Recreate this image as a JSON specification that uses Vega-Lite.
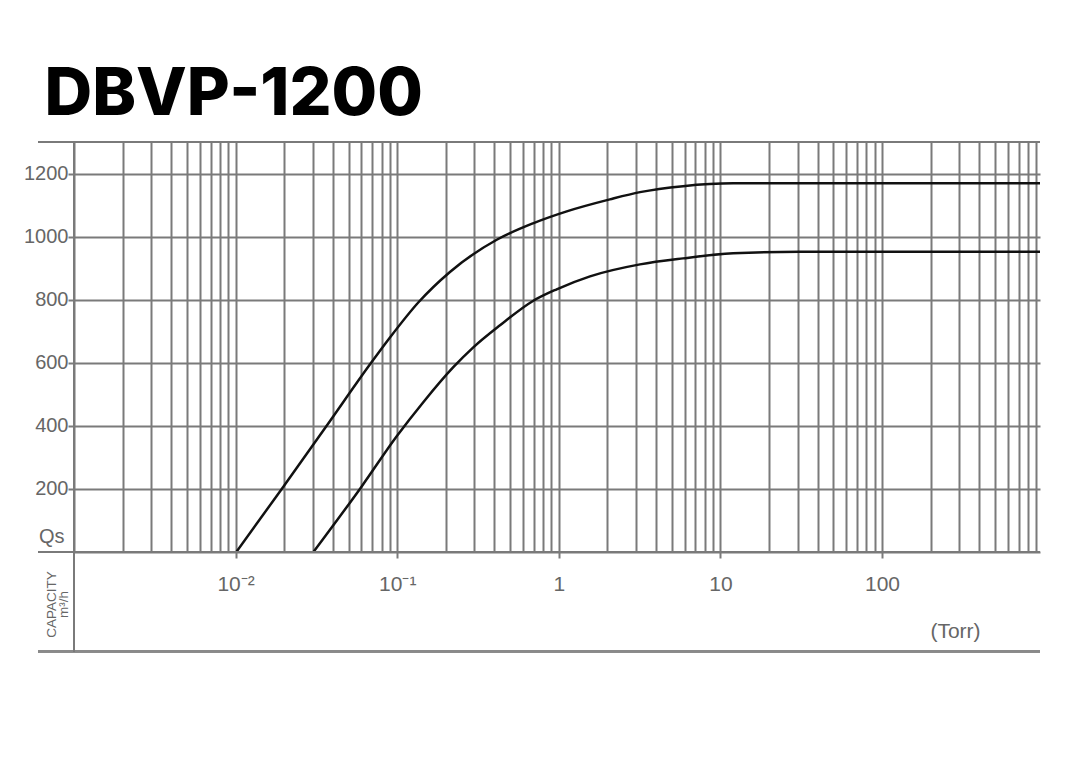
{
  "$schema": "https://vega.github.io/schema/vega-lite/v6.json",
  "width": 966,
  "height": 410,
  "autosize": {"type": "none"},
  "padding": {"left": 74, "top": 142, "right": 40, "bottom": 212},
  "background": "white",
  "title": {"text": "DBVP-1200", "anchor": "start", "dx": 21, "offset": -40, "font": "Inter", "fontSize": 66, "fontWeight": 800, "color": "#000000", "baseline": "alphabetic"},
  "config": {"view": {"stroke": null}},
  "data": {"values": [
    {"p": 0.0101, "q": 0, "s": "upper"},
    {"p": 0.0193, "q": 200, "s": "upper"},
    {"p": 0.0366, "q": 400, "s": "upper"},
    {"p": 0.0679, "q": 595, "s": "upper"},
    {"p": 0.0902, "q": 680, "s": "upper"},
    {"p": 0.135, "q": 791, "s": "upper"},
    {"p": 0.212, "q": 888, "s": "upper"},
    {"p": 0.413, "q": 990, "s": "upper"},
    {"p": 0.692, "q": 1042, "s": "upper"},
    {"p": 1.12, "q": 1080, "s": "upper"},
    {"p": 2.07, "q": 1118, "s": "upper"},
    {"p": 3.18, "q": 1141, "s": "upper"},
    {"p": 5.87, "q": 1160, "s": "upper"},
    {"p": 12, "q": 1169, "s": "upper"},
    {"p": 950, "q": 1169, "s": "upper"},
    {"p": 0.0303, "q": 0, "s": "lower"},
    {"p": 0.0603, "q": 208, "s": "lower"},
    {"p": 0.0993, "q": 367, "s": "lower"},
    {"p": 0.145, "q": 475, "s": "lower"},
    {"p": 0.2224, "q": 586, "s": "lower"},
    {"p": 0.2957, "q": 649, "s": "lower"},
    {"p": 0.4327, "q": 719, "s": "lower"},
    {"p": 0.692, "q": 796, "s": "lower"},
    {"p": 0.97, "q": 833, "s": "lower"},
    {"p": 1.56, "q": 874, "s": "lower"},
    {"p": 3.18, "q": 912, "s": "lower"},
    {"p": 5.87, "q": 931, "s": "lower"},
    {"p": 12, "q": 947, "s": "lower"},
    {"p": 31, "q": 952, "s": "lower"},
    {"p": 950, "q": 952, "s": "lower"}
  ]},
  "layer": [
    {
      "mark": {"type": "line", "interpolate": "monotone", "color": "#111111", "strokeWidth": 2.5, "clip": true},
      "encoding": {
        "x": {
          "field": "p", "type": "quantitative",
          "scale": {"type": "log", "domain": [0.001, 950], "nice": false},
          "axis": {
            "values": [0.001,0.002,0.003,0.004,0.005,0.006,0.007,0.008,0.009,0.01,0.02,0.03,0.04,0.05,0.06,0.07,0.08,0.09,0.1,0.2,0.3,0.4,0.5,0.6,0.7,0.8,0.9,1,2,3,4,5,6,7,8,9,10,20,30,40,50,60,70,80,90,100,200,300,400,500,600,700,800,900],
            "grid": true, "gridColor": "#7a7a7a", "gridWidth": 2, "gridOpacity": 1,
            "domain": false,
            "ticks": true, "tickColor": "#7a7a7a", "tickWidth": 2,
            "tickSize": {"condition": {"test": "datum.value == 0.01 || datum.value == 0.1 || datum.value == 1 || datum.value == 10 || datum.value == 100", "value": 6}, "value": 0},
            "labelExpr": "datum.value == 0.01 ? '10⁻²' : datum.value == 0.1 ? '10⁻¹' : datum.value == 1 ? '1' : datum.value == 10 ? '10' : datum.value == 100 ? '100' : ''",
            "labelOverlap": false, "labelBound": false, "labelFlush": false,
            "labelFont": "Liberation Sans", "labelFontSize": 21, "labelColor": "#666666", "labelPadding": 15,
            "title": "(Torr)", "titleX": 881, "titleY": 79, "titleAlign": "center", "titleBaseline": "middle",
            "titleFont": "Liberation Sans", "titleFontSize": 21, "titleFontWeight": "normal", "titleColor": "#666666"
          }
        },
        "y": {
          "field": "q", "type": "quantitative",
          "scale": {"domain": [0, 1300], "nice": false},
          "axis": {
            "values": [0, 200, 400, 600, 800, 1000, 1200],
            "format": "d",
            "grid": true, "gridColor": "#7a7a7a", "gridWidth": 2, "gridOpacity": 1,
            "domain": false,
            "tickColor": "#7a7a7a", "tickWidth": 2,
            "tickSize": {"condition": {"test": "datum.value == 0", "value": 0}, "value": 6},
            "labelExpr": "datum.value == 0 ? 'Qs' : datum.label",
            "labelOffset": {"condition": {"test": "datum.value == 0", "value": -16}, "value": 0},
            "labelPadding": {"condition": {"test": "datum.value == 0", "value": 10}, "value": 0},
            "labelFont": "Liberation Sans", "labelFontSize": 20, "labelColor": "#666666",
            "title": ["CAPACITY", "m³/h"], "titleX": -19, "titleY": 462, "titleAngle": -90,
            "titleAlign": "center", "titleBaseline": "alphabetic", "titleLineHeight": 12,
            "titleFont": "Liberation Sans", "titleFontSize": 13.5, "titleFontWeight": "normal", "titleColor": "#666666"
          }
        },
        "detail": {"field": "s", "type": "nominal"}
      }
    },
    {
      "mark": {"type": "rule", "color": "#7a7a7a", "strokeWidth": 2},
      "encoding": {
        "x": {"datum": 0.0006, "type": "quantitative", "scale": {"type": "log", "domain": [0.001, 950], "nice": false}},
        "x2": {"datum": 950},
        "y": {"datum": 1300, "type": "quantitative", "scale": {"domain": [0, 1300], "nice": false}}
      }
    },
    {
      "mark": {"type": "rule", "color": "#7a7a7a", "strokeWidth": 2},
      "encoding": {
        "x": {"datum": 0.0006, "type": "quantitative", "scale": {"type": "log", "domain": [0.001, 950], "nice": false}},
        "x2": {"datum": 950},
        "y": {"datum": 0, "type": "quantitative", "scale": {"domain": [0, 1300], "nice": false}}
      }
    },
    {
      "mark": {"type": "rule", "color": "#8a8a8a", "strokeWidth": 2},
      "encoding": {
        "x": {"datum": 0.0006, "type": "quantitative", "scale": {"type": "log", "domain": [0.001, 950], "nice": false}},
        "x2": {"datum": 950},
        "y": {"datum": -315, "type": "quantitative", "scale": {"domain": [0, 1300], "nice": false}}
      }
    },
    {
      "mark": {"type": "rule", "color": "#7a7a7a", "strokeWidth": 2},
      "encoding": {
        "x": {"datum": 0.001, "type": "quantitative", "scale": {"type": "log", "domain": [0.001, 950], "nice": false}},
        "y": {"datum": 1300, "type": "quantitative", "scale": {"domain": [0, 1300], "nice": false}},
        "y2": {"datum": -315}
      }
    }
  ]
}
